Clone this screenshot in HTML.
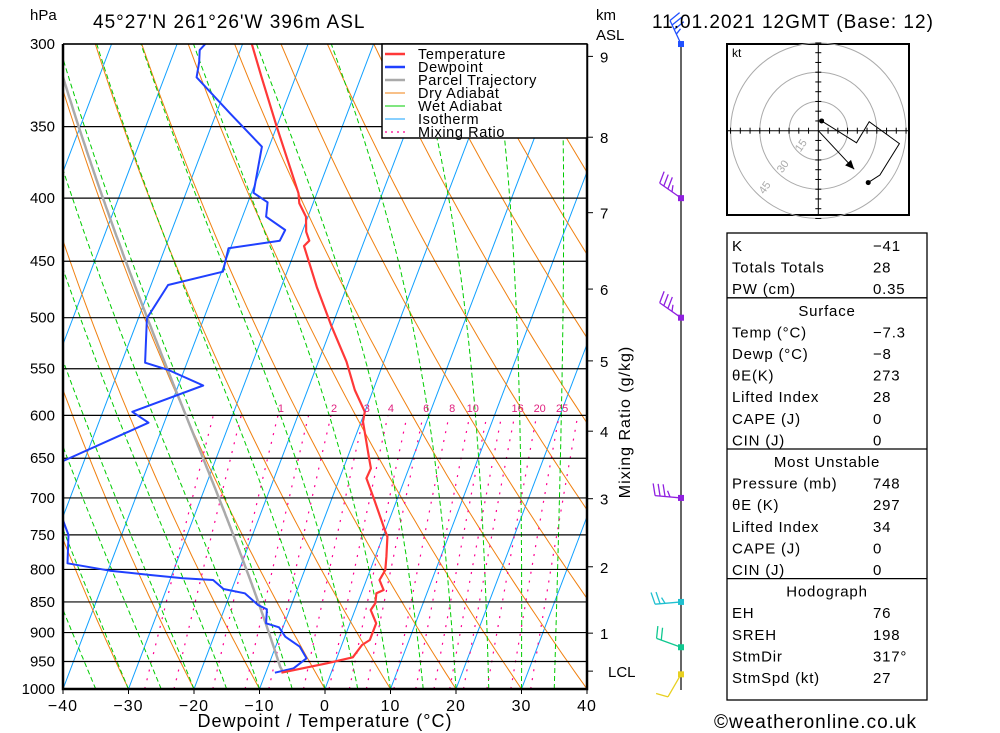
<!DOCTYPE html>
<html><head><meta charset="utf-8"><style>
html,body{margin:0;padding:0;background:#fff}
svg{display:block;font-family:"Liberation Sans","DejaVu Sans",sans-serif}
</style></head><body>
<svg id="c" width="1000" height="733" viewBox="0 0 1000 733" xmlns="http://www.w3.org/2000/svg">
<defs><clipPath id="plotclip"><rect x="63" y="44" width="524" height="645"/></clipPath></defs>
<rect width="1000" height="733" fill="#fff"/>
<g id="bg" clip-path="url(#plotclip)"></g>
<g id="grid"></g>
<g id="prof" clip-path="url(#plotclip)"></g>
<g id="axes"></g>
<g id="wind"></g>
<g id="hodo"></g>
<g id="tbl"></g>
<text x="30" y="20" font-size="15">hPa</text>
<text x="93" y="28" font-size="19" letter-spacing="1">45°27'N  261°26'W  396m  ASL</text>
<text x="652" y="28" font-size="19" letter-spacing="1">11.01.2021  12GMT  (Base: 12)</text>
<text x="596" y="20" font-size="15">km</text>
<text x="596" y="40" font-size="15">ASL</text>
<text x="325" y="727" font-size="18" text-anchor="middle" letter-spacing="1">Dewpoint / Temperature (°C)</text>
<text x="0" y="0" font-size="16" text-anchor="middle" letter-spacing="1" transform="translate(630,422) rotate(-90)">Mixing Ratio (g/kg)</text>
<text x="714" y="728" font-size="19" letter-spacing="1">©weatheronline.co.uk</text>
</svg>
<script>
// ---- data ----
const tempP = [300,319,350,396.4,403.9,414.1,425.9,433.1,437.4,471.9,508.5,542.8,572.3,596,607.2,652.2,662.3,674.8,698.4,743.2,752.6,781.2,800.8,815.9,831.3,836.4,852.1,862.9,884.6,912.6,921.2,942.5,953.2,970];
const tempT = [-48.6,-45.2,-40.0,-32.8,-32.1,-30.3,-29.4,-28.4,-28.9,-24.6,-20.0,-15.7,-12.8,-10.0,-9.7,-6.5,-5.8,-5.9,-3.8,-0.1,0.7,1.7,2.3,2.0,3.2,2.3,2.7,2.4,4.0,4.0,3.1,2.4,-1.2,-7.6];
const dewP = [300,303.4,310.1,319.2,341.4,363.4,396,403.1,414.1,424.5,433.1,439.3,458.9,470.4,500.6,543.8,551.3,567.5,596,608.3,654.2,690,725,750.1,790.9,801.9,808.3,813.3,815.9,829.7,836.4,854.9,861.8,884.6,891.2,907,924.1,944.3,962.1,970];
const dewT = [-55.7,-56.2,-55.6,-55.1,-47.9,-41.1,-39.7,-37.0,-36.4,-32.7,-32.9,-40.3,-39.8,-47.4,-48.7,-46.4,-42.4,-36.2,-45.5,-42.4,-53.4,-56,-50.2,-48.1,-46.6,-39.7,-33.3,-28.1,-23.4,-21.3,-17.8,-15.1,-13.5,-12.8,-10.6,-9.1,-6.3,-4.6,-6.0,-8.6];
const parcelStart = [970, -7.3, -8.0]; // p, T, Td
const pressureTicks = [300,350,400,450,500,550,600,650,700,750,800,850,900,950,1000];
const tempTicks = [-40,-30,-20,-10,0,10,20,30,40];
const kmLabels = ["9","8","7","6","5","4","3","2","1"];
const kmPress = [307,357,411,474,542,618,701,796,901];
const mixRatios = [1,2,3,4,6,8,10,16,20,25];
const mixExtra = [0.4,0.6,1.5,5,12,14,30];
const dryThetaC = [-60,-50,-40,-30,-20,-10,0,10,20,30,40,50,60,70,80,90,100,110,120,130,140,150];
const wetThetaC = [-40,-35,-30,-25,-20,-15,-10,-5,0,5,10,15,20,25,30,35];
const isoT = [-120,-110,-100,-90,-80,-70,-60,-50,-40,-30,-20,-10,0,10,20,30,40];
const windP = [300,400,500,700,850,925,973];
const windDir = [335,305,305,275,265,290,210];
const windSpd = [35,35,35,35,25,20,10];
const windCol = ["#2050ff","#9020e0","#9020e0","#9020e0","#20c0d0","#10c890","#e8d020"];
const hodoU = [1.7,19.6,26.1,41.6,31.6,25.6];
const hodoV = [5.0,-6.2,4.6,-6.6,-22.7,-26.6];
const stormDir = 317, stormSpd = 27;
const tblRows = [
 ["K","-41"],["Totals Totals","28"],["PW (cm)","0.35"],
 ["#Surface",""],["Temp (°C)","-7.3"],["Dewp (°C)","-8"],["θE(K)","273"],["Lifted Index","28"],["CAPE (J)","0"],["CIN (J)","0"],
 ["#Most Unstable",""],["Pressure (mb)","748"],["θE (K)","297"],["Lifted Index","34"],["CAPE (J)","0"],["CIN (J)","0"],
 ["#Hodograph",""],["EH","76"],["SREH","198"],["StmDir","317°"],["StmSpd (kt)","27"]];

// ---- scales ----
const NS="http://www.w3.org/2000/svg";
function Y(p){return 689-535.7*Math.log(1000/p);}
function X(T,p){return 63+(T+40)*6.55+0.38*(689-Y(p));}
function mk(parent,tag,attrs){const e=document.createElementNS(NS,tag);for(const k in attrs)e.setAttribute(k,attrs[k]);parent.appendChild(e);return e;}
function pathD(pts){return pts.map((q,i)=>(i?'L':'M')+q[0].toFixed(1)+' '+q[1].toFixed(1)).join('');}
function es(T){return 6.112*Math.exp(17.67*T/(T+243.5));}
function moistPath(T0,p0,p1){const pts=[];let T=T0,p=p0;const dp=-2;
 while(p>=p1){pts.push([X(T,p),Y(p)]);const Tk=T+273.15,e=es(T),rs=0.622*e/(p-e);
  const g=(287*Tk+2.5e6*rs)/(1004+(2.5e6*2.5e6*rs*0.622)/(287*Tk*Tk))/p;T+=g*dp;p+=dp;}
 return pts;}
function mixT(w,p){const e=w/1000*p/(0.622+w/1000),l=Math.log(e/6.112);return 243.5*l/(17.67-l);}

const bg=document.getElementById('bg');
for(const t of isoT){const el=mk(bg,'path',{d:pathD([[X(t,1000),Y(1000)],[X(t,300),Y(300)]]),stroke:'#10a0ff','stroke-width':1,fill:'none'});

}
for(const th of dryThetaC){const pts=[];for(let p=1000;p>=300;p-=10){pts.push([X((th+273.15)*Math.pow(p/1000,0.286)-273.15,p),Y(p)]);}
const el=mk(bg,'path',{d:pathD(pts),stroke:'#f08010','stroke-width':1,fill:'none'});

}
for(const tw of wetThetaC){const el=mk(bg,'path',{d:pathD(moistPath(tw,1000,300)),stroke:'#00cc00','stroke-width':1,fill:'none','stroke-dasharray':'5,3'});

}
for(const w of mixRatios.concat(mixExtra)){const pts=[];for(let p=1000;p>=600;p-=10){pts.push([X(mixT(w,p),p),Y(p)]);}
const el=mk(bg,'path',{d:pathD(pts),stroke:'#ff0090','stroke-width':1.2,fill:'none','stroke-dasharray':'2,7'});

}
for(const w of mixRatios){
const tx=mk(document.getElementById('axes'),'text',{x:X(mixT(w,600),600)+3,y:412,'font-size':11,fill:'#e0207f','text-anchor':'middle'});tx.textContent=w;

}

const grid=document.getElementById('grid'),axes=document.getElementById('axes');
for(const p of pressureTicks){const y=Y(p);const ln=mk(grid,'line',{x1:63,x2:587,y1:y,y2:y,stroke:'#000','stroke-width':1.2});


const t=mk(axes,'text',{x:55,y:y+5,'font-size':15,'text-anchor':'end'});t.textContent=p;

}
for(const T of tempTicks){const x=X(T,1000);const tk=mk(axes,'line',{x1:x,x2:x,y1:689,y2:694,stroke:'#000'});


const t=mk(axes,'text',{x:x,y:711,'font-size':16,'text-anchor':'middle','letter-spacing':1});t.textContent=(T<0?'\u2212':'')+Math.abs(T);

}
kmLabels.forEach((k,i)=>{const y=Y(kmPress[i]);const tk=mk(axes,'line',{x1:587,x2:593,y1:y,y2:y,stroke:'#000'});


const t=mk(axes,'text',{x:600,y:y+6,'font-size':15});t.textContent=k;

});
{const y=Y(960);const tk=mk(axes,'line',{x1:587,x2:593,y1:y+4,y2:y+4,stroke:'#000'});


const t=mk(axes,'text',{x:608,y:y+10,'font-size':15});t.textContent='LCL';

}
{const fr=mk(axes,'path',{d:'M63 44V689H587V44',stroke:'#000','stroke-width':2.5,fill:'none'});


const tp=mk(axes,'line',{x1:63,x2:587,y1:44,y2:44,stroke:'#000','stroke-width':1.5});

}

const prof=document.getElementById('prof');
{const [p0,T0,Td0]=parcelStart;const Tl=Td0-(0.001296*Td0+0.1963)*(T0-Td0);const pl=p0*Math.pow((Tl+273.15)/(T0+273.15),3.5);
const pts=[[X(T0,p0),Y(p0)],[X(Tl,pl),Y(pl)]].concat(moistPath(Tl,pl,300));
const el=mk(prof,'path',{d:pathD(pts),stroke:'#aaaaaa','stroke-width':2.5,fill:'none'});

}
{const el=mk(prof,'path',{d:pathD(dewP.map((p,i)=>[X(dewT[i],p),Y(p)])),stroke:'#2040ff','stroke-width':2,fill:'none','stroke-linejoin':'round'});

}
{const el=mk(prof,'path',{d:pathD(tempP.map((p,i)=>[X(tempT[i],p),Y(p)])),stroke:'#ff3838','stroke-width':2.2,fill:'none','stroke-linejoin':'round'});

}

{const lg=mk(axes,'g',{});


mk(lg,'rect',{x:382,y:44,width:205,height:94,fill:'#fff',stroke:'#000','stroke-width':1.5});
const items=[['Temperature','#ff3838',2.5,''],['Dewpoint','#2040ff',2.5,''],['Parcel Trajectory','#aaaaaa',2.5,''],['Dry Adiabat','#f08010',1,''],['Wet Adiabat','#00cc00',1,''],['Isotherm','#10a0ff',1,''],['Mixing Ratio','#ff0090',1.2,'2,4']];
items.forEach((it,i)=>{const y=54+i*13;const g=mk(lg,'g',{});


mk(g,'line',{x1:385,x2:405,y1:y,y2:y,stroke:it[1],'stroke-width':it[2],'stroke-dasharray':it[3]});
const t=mk(g,'text',{x:418,y:y+5,'font-size':14.5,'letter-spacing':0.6});t.textContent=it[0];});}

const wind=document.getElementById('wind');
{const l=mk(wind,'line',{x1:681,x2:681,y1:44,y2:690,stroke:'#000','stroke-width':1.2});

}
windP.forEach((p,i)=>{const x0=681,y0=Y(p),c=windCol[i],d=windDir[i]*Math.PI/180;
const ux=Math.sin(d),uy=-Math.cos(d),L=26;const g=mk(wind,'g',{stroke:c,'stroke-width':1.3,fill:'none'});


mk(g,'line',{x1:x0,y1:y0,x2:x0+ux*L,y2:y0+uy*L});
let s=windSpd[i],k=0;const fx=-uy,fy=ux;
while(s>=5){const len=s>=10?12:6;const bx=x0+ux*(L-k*5),by=y0+uy*(L-k*5);
mk(g,'line',{x1:bx,y1:by,x2:bx+fx*len+ux*3,y2:by+fy*len+uy*3});s-=(s>=10?10:5);k++;}
const dot=mk(wind,'rect',{x:x0-3,y:y0-3,width:6,height:6,fill:c});

});

const hodo=document.getElementById('hodo');const hx=818.3,hy=130.7,ks=1.95;
mk(hodo,'rect',{x:727,y:44,width:182,height:171,fill:'#fff',stroke:'#000','stroke-width':2});
[15,30,45].forEach((r,i)=>{mk(hodo,'circle',{cx:hx,cy:hy,r:r*ks,fill:'none',stroke:'#aaa','stroke-width':1});
const rr=r*ks-6;const t=mk(hodo,'text',{x:hx-rr*0.62,y:hy+rr*0.72,'font-size':11,fill:'#aaa','text-anchor':'middle',transform:`rotate(-55 ${hx-rr*0.62} ${hy+rr*0.72})`});t.textContent=r;

});
mk(hodo,'line',{x1:727,x2:909,y1:hy,y2:hy,stroke:'#000'});mk(hodo,'line',{x1:hx,x2:hx,y1:44,y2:215,stroke:'#000'});
for(let k=-9;k<=9;k++){if(!k)continue;const o=k*5*ks;mk(hodo,'line',{x1:hx+o,x2:hx+o,y1:hy-3,y2:hy+3,stroke:'#000'});mk(hodo,'line',{x1:hx-3,x2:hx+3,y1:hy+o,y2:hy+o,stroke:'#000'});}
{const t=mk(hodo,'text',{x:732,y:57,'font-size':12});t.textContent='kt';

}
{const pts=hodoU.map((u,i)=>[hx+u*ks,hy-hodoV[i]*ks]);const el=mk(hodo,'path',{d:pathD(pts),stroke:'#000',fill:'none','stroke-width':1});


mk(hodo,'circle',{cx:pts[0][0],cy:pts[0][1],r:2.5,fill:'#000'});mk(hodo,'circle',{cx:pts[pts.length-1][0],cy:pts[pts.length-1][1],r:2.5,fill:'#000'});
const a=(stormDir+180)*Math.PI/180;const ex=hx+Math.sin(a)*stormSpd*ks,ey=hy-Math.cos(a)*stormSpd*ks;
const ar=mk(hodo,'line',{x1:hx,y1:hy,x2:ex,y2:ey,stroke:'#000'});


const ux=Math.sin(a),uy=-Math.cos(a);mk(hodo,'path',{d:`M${ex} ${ey}L${ex-ux*9-uy*4} ${ey-uy*9+ux*4}L${ex-ux*9+uy*4} ${ey-uy*9-ux*4}Z`,fill:'#000'});}

const tbl=document.getElementById('tbl');
mk(tbl,'rect',{x:727,y:233,width:200,height:467,fill:'none',stroke:'#000','stroke-width':1.3});
let y=246;
tblRows.forEach((r)=>{
 if(r[0][0]==='#'){mk(tbl,'line',{x1:727,x2:927,y1:y-13,y2:y-13,stroke:'#000','stroke-width':1.3});
  const t=mk(tbl,'text',{x:827,y:y+5,'font-size':15,'text-anchor':'middle','letter-spacing':0.8});t.textContent=r[0].slice(1);
  
  }
 else{const a=mk(tbl,'text',{x:732,y:y+5,'font-size':15,'letter-spacing':0.8});a.textContent=r[0];
  
  
  const b=mk(tbl,'text',{x:873,y:y+5,'font-size':15,'letter-spacing':0.8});b.textContent=r[1].replace('-','\u2212');
  
  }
 y+=21.6;});
</script>
</body></html>
